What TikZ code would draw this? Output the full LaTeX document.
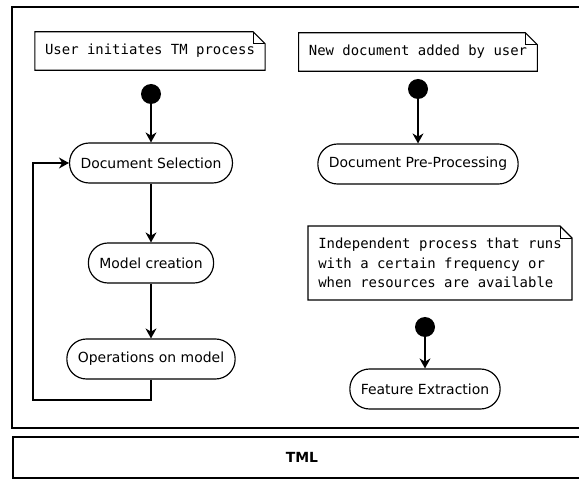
\documentclass[tikz,border=0pt]{standalone}
\usepackage{fontspec}
\setmainfont{DejaVu Sans}
\setmonofont{DejaVu Sans Mono}
\usetikzlibrary{arrows.meta}

\begin{document}
\begin{tikzpicture}[x=0.03cm, y=-0.03cm,
        act/.style={rectangle, draw, line width=1pt, rounded corners=0.59cm,
                    minimum height=1.2cm, inner xsep=0.33cm,
                    font=\fontsize{11.9}{16.6}\selectfont},
        note/.style={rectangle, inner xsep=0.3cm, inner ysep=0.36cm, minimum height=1.14cm,
                     align=left, font=\ttfamily\fontsize{11.9}{16.6}\selectfont},
        start/.style={circle, fill=black, inner sep=0pt, minimum size=0.6cm},
        frame/.style={draw, line width=1.1pt},
        arr/.style={-{Stealth[length=0.3cm,width=0.33cm]}, line width=1pt}]
      \useasboundingbox[fill=white] (0,0) rectangle (579,481);
      % frames
      \draw[frame] (12,7) rectangle (590,428);
      \draw[frame] (13,437) rectangle (590,478);
      \node[font=\bfseries\fontsize{11.9}{14}\selectfont] (tml) at (302,457) {TML};
      % left flow
      \node[note] (n1) at (150,51) {User initiates TM process};
      \node[start] (s1) at (151,94) {};
      \node[act] (sel) at (151,163) {Document Selection};
      \node[act] (mod) at (151,263) {Model creation};
      \node[act] (ops) at (151,359) {Operations on model};
      \coordinate (back) at (33,400);
      \draw[arr] (s1) -- (sel);
      \draw[arr] (sel) -- (mod);
      \draw[arr] (mod) -- (ops);
      \draw[arr] (ops.south) |- (back) |- (sel.west);
      % right flows
      \node[note] (n2) at (418,52) {New document added by user};
      \node[start] (s2) at (418,89) {};
      \node[act] (pre) at (418,164) {Document Pre-Processing};
      \draw[arr] (s2) -- (pre);
      \node[note] (n3) at (440,263) {Independent process that runs\\with a certain frequency or\\when resources are available};
      \node[start] (s3) at (425,327) {};
      \node[act] (fex) at (425,389) {Feature Extraction};
      \draw[arr] (s3) -- (fex);
      % note outlines with folded corner
      \foreach \n in {n1,n2,n3} {
        \draw[line width=1pt] (\n.south west) -- (\n.north west) -- ([xshift=-0.36cm]\n.north east)
          -- ([yshift=-0.36cm]\n.north east) -- (\n.south east) -- cycle;
        \draw[line width=0.6pt] ([xshift=-0.36cm]\n.north east) |- ([yshift=-0.36cm]\n.north east);
      }
    \end{tikzpicture}
\end{document}
